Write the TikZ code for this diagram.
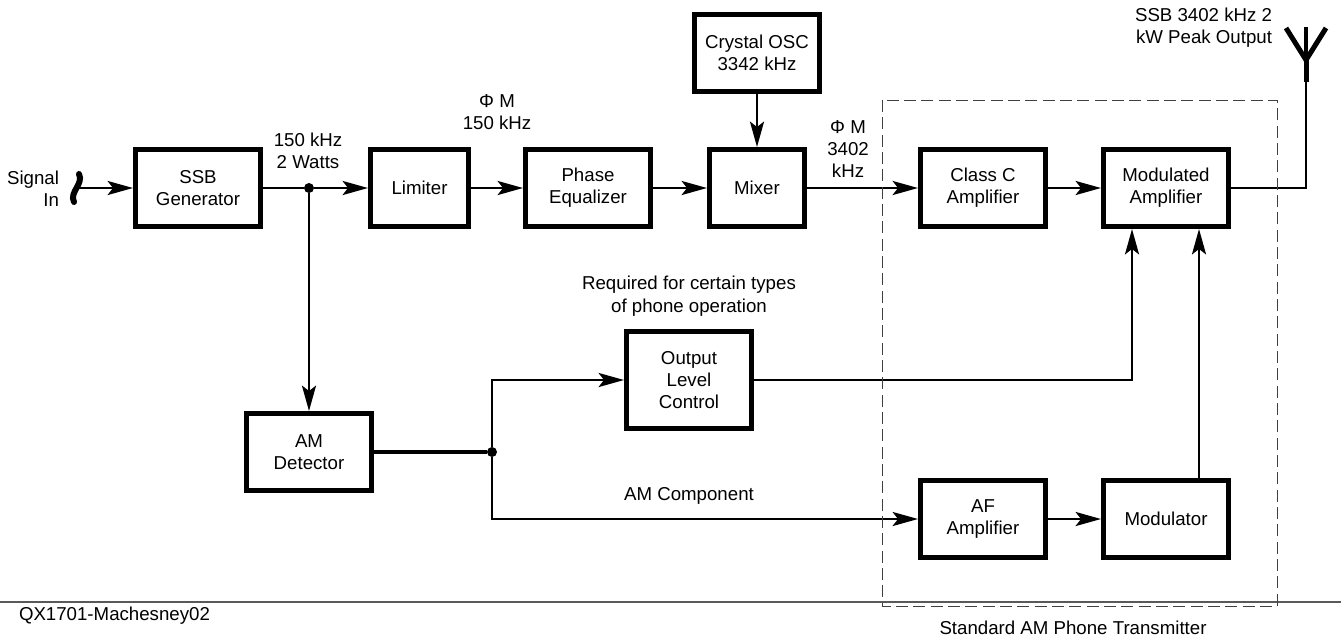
\documentclass[tikz,border=0pt]{standalone}
\usepackage{fontspec}
\setmainfont{Liberation Sans}
\usetikzlibrary{arrows.meta}
\tikzset{
  x=0.75pt,y=-0.75pt,
  lbl/.style={inner sep=0pt,outer sep=0pt,align=center,text=black,font=\fontsize{14}{16.5}\selectfont},
  blockbox/.style={lbl,draw=black,line width=3.75pt,outer sep=1.875pt,minimum width=93.75pt,minimum height=57.75pt},
  wire/.style={draw=black,line width=2pt,line join=miter},
  flow/.style={wire,-{Stealth[length=19pt,width=10.5pt,inset=4pt]}},
  junction/.style={circle,fill=black,inner sep=0pt,minimum size=7.5pt},
  dashbox/.style={draw=black!75,line width=0.7pt,dash pattern=on 9pt off 4pt},
  rulegray/.style={draw=black!65,line width=0.9pt},
}
\begin{document}
\begin{tikzpicture}
\useasboundingbox (0,0) rectangle (1341,637);
% blocks
\node[blockbox] (ssb) at (198,188) {SSB\\Generator};
\node[blockbox,minimum width=73.5pt] (lim) at (419.5,188) {Limiter};
\node[blockbox] (peq) at (588,188) {Phase\\Equalizer};
\node[blockbox,minimum width=71.25pt] (mix) at (757,188) {Mixer};
\node[blockbox] (osc) at (757,53) {Crystal OSC\\3342 kHz};
\node[blockbox] (cla) at (983,188) {Class C\\Amplifier};
\node[blockbox] (mod) at (1166,188) {Modulated\\Amplifier};
\node[blockbox] (det) at (309,452) {AM\\Detector};
\node[blockbox,minimum height=72.75pt] (olc) at (689,380) {Output\\Level\\Control};
\node[blockbox] (afa) at (983,519) {AF\\Amplifier};
\node[blockbox] (mdr) at (1166,519) {Modulator};
% free points
\coordinate (sigin) at (77,188);
\coordinate (sq1) at (79,174);
\coordinate (sq2) at (74,202);
\coordinate (antb) at (1306,82);
\coordinate (anttop) at (1306,60);
\coordinate (antl) at (1286,28);
\coordinate (antr) at (1326,28);
\coordinate (antc) at (1306,27);
\coordinate (modin1) at (1132,229);
\coordinate (modin2) at (1199,229);
\coordinate (modout) at (1199,478);
\coordinate (dl) at (882,100);
\coordinate (dr) at (1277,606);
\coordinate (rl) at (0,602);
\coordinate (rr) at (1341,602);
\node[junction] (j1) at (309,188) {};
\node[junction] (j2) at (492,452) {};
% connectors
\draw[flow] (sigin) -- (ssb.west);
\draw[line width=4.5pt,line cap=round] (sq1) .. controls (84,184) and (69,192) .. (sq2);
\draw[wire] (ssb.east) -- (j1);
\draw[flow] (j1) -- (lim.west);
\draw[flow] (j1) -- (det.north);
\draw[flow] (lim.east) -- (peq.west);
\draw[flow] (peq.east) -- (mix.west);
\draw[flow] (osc.south) -- (mix.north);
\draw[flow] (mix.east) -- (cla.west);
\draw[flow] (cla.east) -- (mod.west);
\draw[wire] (mod.east) -| (antb);
\draw[line width=3.75pt] (antb) -- (anttop);
\draw[line width=3.75pt,line join=miter] (antl) -- (anttop) -- (antr);
\draw[line width=2.4pt] (anttop) -- (antc);
\draw[wire,line width=2.3pt] (det.east) -- (j2);
\draw[flow] (j2) |- (olc.west);
\draw[flow] (j2) |- (afa.west);
\draw[flow] (olc.east) -| (modin1);
\draw[flow] (afa.east) -- (mdr.west);
\draw[flow] (modout) -- (modin2);
\draw[rulegray] (rl) -- (rr);
\draw[dashbox] (dl) rectangle (dr);
% labels
\node[lbl,align=right,anchor=east] (t1) at (59,188.5) {Signal\\In};
\node[lbl] (t2) at (308,150.5) {150 kHz\\2 Watts};
\node[lbl] (t3) at (497,112) {Φ M\\150 kHz};
\node[lbl] (t4) at (848,149.5) {Φ M\\3402\\kHz};
\node[lbl,align=right,anchor=east] (t5) at (1272,27.5) {SSB 3402 kHz 2\\kW Peak Output};
\node[lbl] (t6) at (689,285) {Required for certain types};
\node[lbl] (t7) at (689,308) {of phone operation};
\node[lbl] (t8) at (689,496) {AM Component};
\node[lbl] (t9) at (1073,628) {Standard AM Phone Transmitter};
\node[lbl,anchor=west] (t10) at (19,616) {QX1701-Machesney02};
\end{tikzpicture}
\end{document}
